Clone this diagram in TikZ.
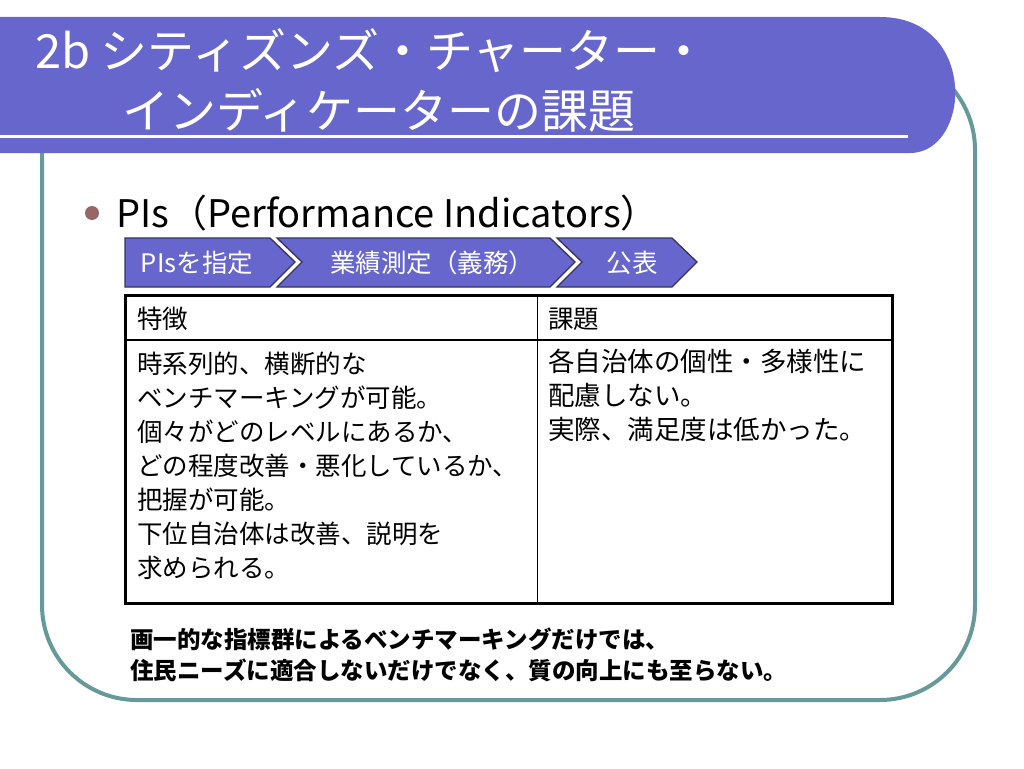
\documentclass[tikz,border=0pt]{standalone}
\usepackage{fontspec}
\setmainfont{Noto Sans CJK JP}
\definecolor{bannerpurple}{HTML}{6666CC}
\definecolor{frameteal}{HTML}{669999}
\definecolor{bulletmauve}{HTML}{996666}
\definecolor{chevline}{HTML}{333366}
\begin{document}
\begin{tikzpicture}[x=1pt,y=-1pt,
  titletext/.style={text=white,inner sep=0pt,font=\fontsize{47}{50}\selectfont},
  chevbox/.style={fill=bannerpurple,draw=chevline,line width=1.3pt,line join=miter},
  chevtext/.style={text=white,inner sep=0pt,font=\fontsize{25.5}{28}\selectfont,anchor=base},
  celltext/.style={inner sep=0pt,anchor=base west,font=\fontsize{25.5}{30}\selectfont},
  righttext/.style={inner sep=0pt,anchor=base west,font=\fontsize{26.5}{30}\selectfont},
  notetext/.style={inner sep=0pt,anchor=base west,font=\fontsize{23.5}{28}\selectfont\bfseries}]
\useasboundingbox (0,0) rectangle (1024,768);
% frame
\draw[frameteal,line width=4pt,rounded corners=95pt] (42,55) rectangle (975,700);
% banner
\fill[bannerpurple] (0,17) -- (880,17) .. controls (935,17) and (958,60) .. (955,100)
  .. controls (952,130) and (935,153) .. (910,153) -- (0,153) -- cycle;
\draw[white,line width=3pt] (0,136) -- (908,136);
\node[titletext,anchor=base west] (t1) at (35,68) {2b シティズンズ・チャーター・};
\node[titletext,anchor=base west] (t2) at (122,128) {インディケーターの課題};
% bullet
\fill[bulletmauve] (92,213) circle (7);
\node[inner sep=0pt,anchor=base west,font=\fontsize{38}{42}\selectfont] (pis) at (116,227) {PIs（Performance Indicators）};
% chevrons
\draw[chevbox] (125,238) -- (270,238) -- (295,262) -- (270,287) -- (125,287) -- cycle;
\draw[chevbox] (277,238) -- (550,238) -- (575,262) -- (550,287) -- (277,287) -- (302,262) -- cycle;
\draw[chevbox] (557,238) -- (672,238) -- (697,262) -- (672,287) -- (557,287) -- (582,262) -- cycle;
\node[chevtext] (c1) at (197,272) {PIsを指定};
\node[chevtext] (c2) at (432,272) {業績測定（義務）};
\node[chevtext] (c3) at (632,272) {公表};
% table
\draw[black,line width=1pt] (537,295) -- (537,603);
\draw[black,line width=1.2pt] (125,340) -- (892,340);
\draw[black,line width=3pt] (125,295) rectangle (892,603);
\node[celltext] (h1) at (137,328) {特徴};
\node[celltext] (h2) at (548,328) {課題};
\foreach \i/\t in {0/時系列的、横断的な,1/ベンチマーキングが可能。,2/個々がどのレベルにあるか、,3/どの程度改善・悪化しているか、,4/把握が可能。,5/下位自治体は改善、説明を,6/求められる。}
  \node[celltext] (l\i) at (137,373+34*\i) {\t};
\foreach \i/\t in {0/各自治体の個性・多様性に,1/配慮しない。,2/実際、満足度は低かった。}
  \node[righttext] (r\i) at (548,371+34*\i) {\t};
% note
\node[notetext] (n1) at (130,648) {画一的な指標群によるベンチマーキングだけでは、};
\node[notetext] (n2) at (130,679) {住民ニーズに適合しないだけでなく、質の向上にも至らない。};
\end{tikzpicture}
\end{document}
